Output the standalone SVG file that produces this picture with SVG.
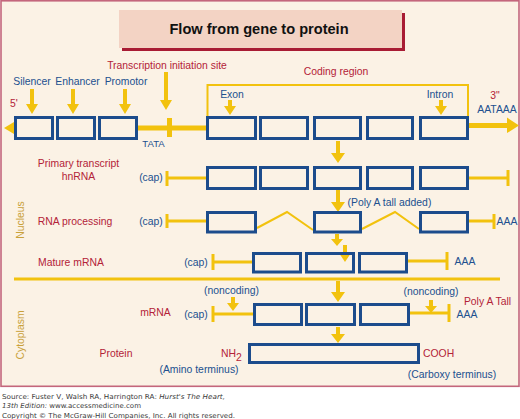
<svg xmlns="http://www.w3.org/2000/svg" width="520" height="419" viewBox="0 0 520 419">
<style>
  text { font-family: "Liberation Sans", Arial, sans-serif; font-size: 10.4px; }
  .b { fill: #21508f; }
  .r { fill: #b32238; }
  .g { fill: #c9a13a; }
  .c { text-anchor: middle; }
  .box { fill: none; stroke: #1c4c8c; stroke-width: 3; }
  .yl { stroke: #f2c20e; stroke-width: 3; fill: none; }
  .ya { fill: #f2c20e; }
  .ft { font-family: "DejaVu Sans", Verdana, sans-serif; font-size: 6.8px; fill: #3a3a3a; }
</style>
<rect x="0" y="0" width="520" height="419" fill="#ffffff"/>
<rect x="1" y="0.8" width="518" height="385.5" fill="#fbf2e5" stroke="#c4667c" stroke-width="1.6"/>

<g id="title">
  <rect x="122" y="13" width="283" height="38" fill="#a81c34"/>
  <rect x="119" y="10" width="283" height="38" fill="#f3d3c4"/>
  <text x="259" y="33.5" class="c" style="font-size:14.6px;font-weight:bold;fill:#111">Flow from gene to protein</text>
</g>

<g id="regions">
  <text transform="translate(24,220) rotate(-90)" class="g c">Nucleus</text>
  <text transform="translate(24,335) rotate(-90)" class="g c">Cytoplasm</text>
  <line class="yl" x1="14" y1="279" x2="500" y2="279"/>
</g>

<g id="connectors">
  <!-- DNA line -->
  <line class="yl" style="stroke-width:5" x1="138" y1="128" x2="206" y2="128"/>
  <line class="yl" style="stroke-width:5" x1="169.5" y1="118" x2="169.5" y2="137"/>
  <polygon class="ya" points="4,128 14,122 14,134"/>
  <line class="yl" style="stroke-width:5" x1="469" y1="125.5" x2="508" y2="125.5"/>
  <polygon class="ya" points="507,117.5 519,125.5 507,133"/>
  <!-- coding region bracket -->
  <polyline class="yl" style="stroke-width:2" points="207.5,116 207.5,85 468,85 468,116"/>
  <!-- arrows top -->
  <polygon class="ya" points="30,89 34,89 34,104 38,104 32,114 26,104 30,104"/>
  <polygon class="ya" points="71,89 75,89 75,104 79,104 73,114 67,104 71,104"/>
  <polygon class="ya" points="123,89 127,89 127,104 131,104 125,114 119,104 123,104"/>
  <polygon class="ya" points="164,72 168,72 168,100 172,100 166,110 160,100 164,100"/>
  <polygon class="ya" points="228,100 232,100 232,106 236,106 230,115 224,106 228,106"/>
  <polygon class="ya" points="439,100 443,100 443,106 447,106 441,115 435,106 439,106"/>
  <!-- vertical flow arrows -->
  <polygon class="ya" points="336,141 340,141 340,153 345,153 338,163 331,153 336,153"/>
  <polygon class="ya" points="336,190 340,190 340,202 345,202 338,212 331,202 336,202"/>
  <polygon class="ya" points="335,234 339,234 339,239 343,239 337,246 331,239 335,239"/>
  <polygon class="ya" points="343,245 347,245 347,253 351,253 345,262 339,253 343,253"/>
  <polygon class="ya" points="336,281 340,281 340,292 345,292 338,302 331,292 336,292"/>
  <polygon class="ya" points="336,327 340,327 340,334 345,334 338,343 331,334 336,334"/>
  <polygon class="ya" points="231,297 235,297 235,303 239,303 233,311 227,303 231,303"/>
  <polygon class="ya" points="429,300 433,300 433,306 437,306 431,313 425,306 429,306"/>
  <!-- row 2 -->
  <line class="yl" x1="167" y1="178" x2="206" y2="178"/>
  <line class="yl" x1="167" y1="171" x2="167" y2="186"/>
  <line class="yl" x1="469" y1="178" x2="508" y2="178"/>
  <line class="yl" x1="508" y1="170" x2="508" y2="186"/>
  <!-- row 3 -->
  <line class="yl" x1="167" y1="221" x2="206" y2="221"/>
  <line class="yl" x1="167" y1="214" x2="167" y2="228"/>
  <line class="yl" x1="469" y1="221" x2="494" y2="221"/>
  <line class="yl" x1="494" y1="214" x2="494" y2="229"/>
  <polyline class="yl" style="stroke-width:2" points="257,228 287,212 313,230"/>
  <polyline class="yl" style="stroke-width:2" points="362,229 395,212 419,229"/>
  <!-- row 4 -->
  <line class="yl" x1="213" y1="262" x2="252" y2="262"/>
  <line class="yl" x1="213" y1="254" x2="213" y2="270"/>
  <line class="yl" x1="408" y1="261" x2="447" y2="261"/>
  <line class="yl" x1="447" y1="252" x2="447" y2="270"/>
  <!-- row 5 -->
  <line class="yl" x1="213" y1="314" x2="253" y2="314"/>
  <line class="yl" x1="213" y1="306" x2="213" y2="322"/>
  <line class="yl" x1="408" y1="313" x2="449" y2="313"/>
  <line class="yl" x1="449" y1="304" x2="449" y2="322"/>
</g>

<g id="dna">
  <rect class="box" x="15.5" y="117.5" width="37" height="21"/>
  <rect class="box" x="57.5" y="117.5" width="37" height="21"/>
  <rect class="box" x="99.5" y="117.5" width="37" height="21"/>
  <rect class="box" x="207.5" y="117.5" width="48" height="21"/>
  <rect class="box" x="260.5" y="117.5" width="47" height="21"/>
  <rect class="box" x="314.5" y="117.5" width="46" height="21"/>
  <rect class="box" x="367.5" y="117.5" width="45" height="21"/>
  <rect class="box" x="420.5" y="117.5" width="47" height="21"/>
  <text x="167" y="69" class="r c">Transcription initiation site</text>
  <text x="32" y="85" class="b c">Silencer</text>
  <text x="77.5" y="85" class="b c">Enhancer</text>
  <text x="126" y="85" class="b c">Promotor</text>
  <text x="10" y="107" class="r">5'</text>
  <text x="336" y="75" class="r c">Coding region</text>
  <text x="232" y="98" class="b c">Exon</text>
  <text x="440" y="98" class="b c">Intron</text>
  <text x="495" y="99" class="r c">3"</text>
  <text x="497" y="113" class="b c">AATAAA</text>
  <text x="153.5" y="147" class="b c" style="font-size:9.6px">TATA</text>
</g>

<g id="primary-transcript">
  <rect class="box" x="207.5" y="167.5" width="48" height="21"/>
  <rect class="box" x="260.5" y="167.5" width="47" height="21"/>
  <rect class="box" x="314.5" y="167.5" width="46" height="21"/>
  <rect class="box" x="367.5" y="167.5" width="45" height="21"/>
  <rect class="box" x="420.5" y="167.5" width="47" height="21"/>
  <text x="78.5" y="167" class="r c">Primary transcript</text>
  <text x="78.5" y="180" class="r c">hnRNA</text>
  <text x="151" y="181" class="b c">(cap)</text>
</g>

<g id="rna-processing">
  <rect class="box" x="207.5" y="212.5" width="48" height="19.5"/>
  <rect class="box" x="314.5" y="212.5" width="46" height="19.5"/>
  <rect class="box" x="420.5" y="212.5" width="47" height="19.5"/>
  <text x="75" y="224.5" class="r c">RNA processing</text>
  <text x="151" y="225" class="b c">(cap)</text>
  <text x="389.5" y="206" class="b c">(Poly A tall added)</text>
  <text x="507" y="225" class="b c">AAA</text>
</g>

<g id="mature-mrna">
  <rect class="box" x="253.5" y="253.5" width="47" height="18.5"/>
  <rect class="box" x="306.5" y="253.5" width="47" height="18.5"/>
  <rect class="box" x="359.5" y="253.5" width="47" height="18.5"/>
  <text x="38" y="266" class="r">Mature mRNA</text>
  <text x="196" y="265.5" class="b c">(cap)</text>
  <text x="465" y="265" class="b c">AAA</text>
</g>

<g id="mrna">
  <rect class="box" x="254.5" y="304.5" width="47" height="20"/>
  <rect class="box" x="306.5" y="304.5" width="48" height="20"/>
  <rect class="box" x="360.5" y="304.5" width="48" height="20"/>
  <text x="155.5" y="315.5" class="r c">mRNA</text>
  <text x="196" y="318" class="b c">(cap)</text>
  <text x="231.5" y="294" class="b c">(noncoding)</text>
  <text x="431" y="295" class="b c">(noncoding)</text>
  <text x="467" y="317.5" class="b c">AAA</text>
  <text x="487.5" y="305" class="r c">Poly A Tall</text>
</g>

<g id="protein">
  <rect class="box" x="249.5" y="344.5" width="169" height="18"/>
  <text x="116" y="357" class="r c">Protein</text>
  <text x="221" y="357" class="r">NH<tspan dy="4">2</tspan></text>
  <text x="199" y="373" class="b c">(Amino terminus)</text>
  <text x="423" y="357" class="r">COOH</text>
  <text x="452" y="378" class="b c">(Carboxy terminus)</text>
</g>

<g id="footer">
  <text x="2" y="399" class="ft" textLength="223" lengthAdjust="spacingAndGlyphs">Source: Fuster V, Walsh RA, Harrington RA: <tspan font-style="italic">Hurst's The Heart,</tspan></text>
  <text x="2" y="407.5" class="ft" textLength="139" lengthAdjust="spacingAndGlyphs"><tspan font-style="italic">13th Edition:</tspan> www.accessmedicine.com</text>
  <text x="2" y="418" class="ft" textLength="233" lengthAdjust="spacingAndGlyphs">Copyright © The McGraw-Hill Companies, Inc. All rights reserved.</text>
</g>
</svg>
